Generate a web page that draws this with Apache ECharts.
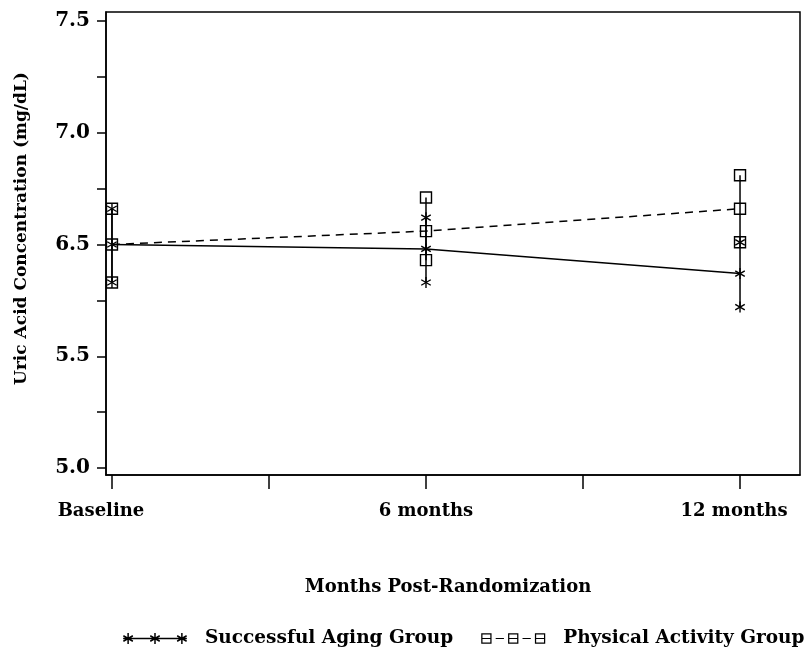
<!DOCTYPE html>
<html>
<head>
<meta charset="utf-8">
<script src="https://cdn.jsdelivr.net/npm/echarts@6/dist/echarts.min.js"></script>
<style>html,body{margin:0;padding:0;background:#fff;}#chart{width:812px;height:656px;}</style>
</head>
<body>
<div id="chart"></div>
<script>
// ---- data ----
const categories = ['Baseline', '6 months', '12 months'];
const xPositions = [0, 1, 2];
const xTickValues = [0, 0.5, 1, 1.5, 2];
// y axis: printed tick labels (as in the original figure) at evenly spaced internal positions
const yTickValues = [5.5, 6.0, 6.5, 7.0, 7.5];
const yTickLabels = ['5.0', '5.5', '6.5', '7.0', '7.5'];
const yMinorTickValues = [5.5, 5.75, 6.0, 6.25, 6.5, 6.75, 7.0, 7.25, 7.5];

const saName = 'Successful Aging Group';
const saMean = [6.50, 6.48, 6.37];
const saLow  = [6.33, 6.33, 6.22];
const saHigh = [6.66, 6.62, 6.51];

const paName = 'Physical Activity Group';
const paMean = [6.50, 6.56, 6.66];
const paLow  = [6.33, 6.43, 6.51];
const paHigh = [6.66, 6.71, 6.81];

// ---- helpers ----
const FONT = '"DejaVu Serif", "Liberation Serif", serif';

function seg(ax, ay, bx, by, t) {
  const dx = bx - ax, dy = by - ay, L = Math.sqrt(dx * dx + dy * dy);
  const px = -dy / L * t, py = dx / L * t;
  return 'M' + (ax + px) + ' ' + (ay + py) + 'L' + (bx + px) + ' ' + (by + py) +
         'L' + (bx - px) + ' ' + (by - py) + 'L' + (ax - px) + ' ' + (ay - py) + 'Z';
}
function starPath(cx, cy, r, t) {
  let p = '';
  [90, 30, 150].forEach(function (a) {
    const rad = a * Math.PI / 180, dx = Math.cos(rad) * r, dy = Math.sin(rad) * r;
    p += seg(cx - dx, cy - dy, cx + dx, cy + dy, t);
  });
  return p;
}
function saIcon() {
  let p = seg(0, 6, 64, 6, 0.7);
  [5, 32, 59].forEach(function (c) { p += starPath(c, 6, 5.5, 0.75); });
  return 'path://' + p;
}
function sqPath(x, y, s, t) {
  return 'M' + x + ' ' + y + 'L' + (x + s) + ' ' + y + 'L' + (x + s) + ' ' + (y + s) + 'L' + x + ' ' + (y + s) + 'Z' +
         'M' + (x + t) + ' ' + (y + t) + 'L' + (x + t) + ' ' + (y + s - t) + 'L' + (x + s - t) + ' ' + (y + s - t) + 'L' + (x + s - t) + ' ' + (y + t) + 'Z';
}
function paIcon() {
  let p = '';
  [0, 26, 52].forEach(function (x) {
    p += sqPath(x, 1, 10, 1.2);
    p += 'M' + (x + 1.2) + ' 5.4L' + (x + 8.8) + ' 5.4L' + (x + 8.8) + ' 6.6L' + (x + 1.2) + ' 6.6Z';
  });
  p += 'M14 5.4L22 5.4L22 6.6L14 6.6Z';
  p += 'M40 5.4L48 5.4L48 6.6L40 6.6Z';
  return 'path://' + p;
}

function errRender(kind) {
  return function (params, api) {
    const x = api.value(0);
    const pm = api.coord([x, api.value(1)]);
    const pl = api.coord([x, api.value(2)]);
    const ph = api.coord([x, api.value(3)]);
    const st = { stroke: '#000', lineWidth: 1.5, fill: 'none' };
    const children = [{ type: 'line', shape: { x1: pl[0], y1: pl[1], x2: ph[0], y2: ph[1] }, style: st }];
    [pl, pm, ph].forEach(function (p) {
      if (kind === 'star') {
        const r = 5.5;
        [90, 30, 150].forEach(function (a) {
          const rad = a * Math.PI / 180, dx = Math.cos(rad) * r, dy = Math.sin(rad) * r;
          children.push({ type: 'line', shape: { x1: p[0] - dx, y1: p[1] - dy, x2: p[0] + dx, y2: p[1] + dy }, style: { stroke: '#000', lineWidth: 1.4 } });
        });
      } else {
        children.push({ type: 'rect', shape: { x: p[0] - 5.5, y: p[1] - 5.5, width: 11, height: 11 }, style: { stroke: '#000', lineWidth: 1.4, fill: 'none' } });
      }
    });
    return { type: 'group', children: children };
  };
}

function toPairs(xs, ys) { return xs.map(function (x, i) { return [x, ys[i]]; }); }
function toErr(xs, m, lo, hi) { return xs.map(function (x, i) { return [x, m[i], lo[i], hi[i]]; }); }

const labelStyle = { color: '#000', fontFamily: FONT, fontWeight: 'bold', fontSize: 18 };

const chart = echarts.init(document.getElementById('chart'), null, { renderer: 'canvas' });
chart.setOption({
  animation: false,
  backgroundColor: '#fff',
  textStyle: { fontFamily: FONT },
  grid: { left: 106, right: 12, top: 12, bottom: 181, show: true, borderColor: '#000', borderWidth: 1.5, backgroundColor: 'transparent' },
  xAxis: {
    type: 'value',
    min: -0.019, max: 2.191,
    splitLine: { show: false },
    axisLine: { show: true, onZero: false, lineStyle: { color: '#000', width: 1.5 } },
    axisTick: { show: true, length: 14, customValues: xTickValues, lineStyle: { color: '#000', width: 1.5 } },
    axisLabel: {
      customValues: xPositions,
      margin: 27,
      color: '#000', fontFamily: FONT, fontWeight: 'bold', fontSize: 18,
      formatter: function (v) {
        const i = xPositions.indexOf(Math.round(v));
        if (i < 0) return '';
        const key = i === 0 ? 'first' : (i === categories.length - 1 ? 'last' : 'mid');
        return '{' + key + '|' + categories[i] + '}';
      },
      rich: {
        first: Object.assign({ padding: [0, 22, 0, 0] }, labelStyle),
        mid: Object.assign({}, labelStyle),
        last: Object.assign({ padding: [0, 12, 0, 0] }, labelStyle)
      }
    },
    name: 'Months Post-Randomization',
    nameLocation: 'middle',
    nameGap: 103,
    nameTextStyle: { color: '#000', fontFamily: FONT, fontWeight: 'bold', fontSize: 18, padding: [0, 10, 0, 0] }
  },
  yAxis: {
    type: 'value',
    min: 5.469, max: 7.540,
    splitLine: { show: false },
    axisLine: { show: true, onZero: false, lineStyle: { color: '#000', width: 1.5 } },
    axisTick: { show: true, length: 9, customValues: yMinorTickValues, lineStyle: { color: '#000', width: 1.5 } },
    axisLabel: {
      customValues: yTickValues,
      margin: 16,
      color: '#000', fontFamily: FONT, fontWeight: 'bold', fontSize: 20,
      formatter: function (v) {
        for (let i = 0; i < yTickValues.length; i++) { if (Math.abs(yTickValues[i] - v) < 1e-6) return yTickLabels[i]; }
        return '';
      }
    },
    name: 'Uric Acid Concentration (mg/dL)',
    nameLocation: 'middle',
    nameGap: 76,
    nameTextStyle: { color: '#000', fontFamily: FONT, fontWeight: 'bold', fontSize: 17, padding: [0, 0, 0, 30] }
  },
  legend: {
    left: 118, top: 624,
    itemWidth: 64, itemHeight: 12, itemGap: 28,
    textStyle: { color: '#000', fontFamily: FONT, fontWeight: 'bold', fontSize: 18.5, padding: [0, 0, 0, 13] },
    data: [{ name: saName, icon: saIcon() }, { name: paName, icon: paIcon() }]
  },
  series: [
    {
      name: saName, type: 'line', data: toPairs(xPositions, saMean),
      symbol: 'none', color: '#000',
      lineStyle: { color: '#000', width: 1.5, type: 'solid' }, z: 3
    },
    {
      name: paName, type: 'line', data: toPairs(xPositions, paMean),
      symbol: 'none', color: '#000',
      lineStyle: { color: '#000', width: 1.5, type: [8, 6] }, z: 3
    },
    {
      name: saName, type: 'custom', color: '#000',
      renderItem: errRender('star'),
      encode: { x: 0, y: [1, 2, 3] },
      data: toErr(xPositions, saMean, saLow, saHigh), z: 4
    },
    {
      name: paName, type: 'custom', color: '#000',
      renderItem: errRender('square'),
      encode: { x: 0, y: [1, 2, 3] },
      data: toErr(xPositions, paMean, paLow, paHigh), z: 5
    }
  ]
});
</script>
</body>
</html>
